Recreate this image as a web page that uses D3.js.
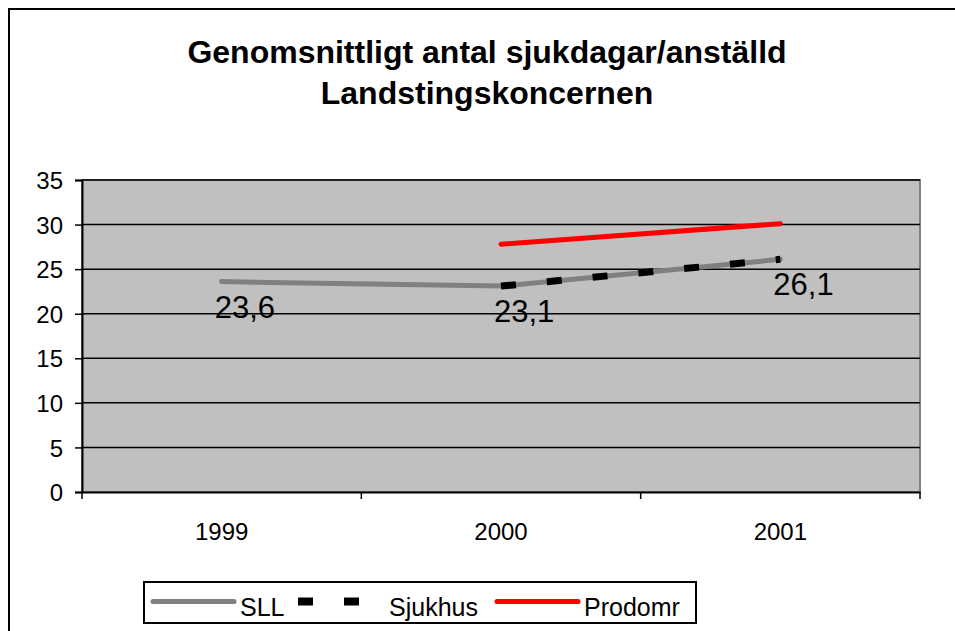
<!DOCTYPE html>
<html><head><meta charset="utf-8">
<script src="https://cdn.jsdelivr.net/npm/d3@7"></script>
<style>body{margin:0;background:#fff}svg{display:block}</style>
</head><body>
<svg id="c" width="955" height="631"></svg>
<script>
const categories = ["1999","2000","2001"];
const sll = [23.6, 23.1, 26.1];
const sjukhus = [null, 23.1, 26.1];
const prodomr = [null, 27.8, 30.1];
const yTicks = [0,5,10,15,20,25,30,35];
const titleLines = ["Genomsnittligt antal sjukdagar/anställd","Landstingskoncernen"];
const labelValues = [23.6, 23.1, 26.1];

const svg = d3.select("#c");
const font = "'Liberation Sans', Arial, sans-serif";
const L=82, R=920, T=180, B=492;

svg.append("rect").attr("x",9).attr("y",9).attr("width",960).attr("height",640)
  .attr("fill","#fff").attr("stroke","#000").attr("stroke-width",2);

titleLines.forEach((t,i)=>svg.append("text").attr("x",487).attr("y",63+i*41)
  .attr("text-anchor","middle").attr("font-family",font).attr("font-weight","bold")
  .attr("font-size",32).text(t));

const x = d3.scaleBand().domain(categories).range([L,R]);
const y = d3.scaleLinear().domain([0,35]).range([B,T]);
const cx = c => x(c)+x.bandwidth()/2;

svg.append("rect").attr("x",L).attr("y",T).attr("width",R-L).attr("height",B-T)
  .attr("fill","#c0c0c0").attr("stroke","#808080").attr("stroke-width",2);

svg.append("g").selectAll("line").data(yTicks.filter(d=>d>0)).join("line")
  .attr("x1",L).attr("x2",R).attr("y1",d=>y(d)).attr("y2",d=>y(d))
  .attr("stroke","#000").attr("stroke-width",1.5);

const ya = svg.append("g").attr("transform",`translate(${L},0)`)
  .call(d3.axisLeft(y).tickValues(yTicks).tickSize(7).tickPadding(12));
ya.select(".domain").attr("stroke","#000").attr("stroke-width",2);
ya.selectAll(".tick line").attr("stroke","#000").attr("stroke-width",1.5);
ya.selectAll("text").attr("font-family",font).attr("font-size",24).attr("fill","#000").attr("dy","0.36em");

const xa = svg.append("g").attr("transform",`translate(0,${B})`)
  .call(d3.axisBottom(x).tickSize(0).tickPadding(31));
xa.select(".domain").attr("stroke","#000").attr("stroke-width",2);
xa.selectAll("text").attr("font-family",font).attr("font-size",24).attr("fill","#000");
svg.append("g").selectAll("line").data([...categories.map(c=>x(c)), R]).join("line")
  .attr("x1",d=>d).attr("x2",d=>d).attr("y1",B).attr("y2",B+7)
  .attr("stroke","#000").attr("stroke-width",1.5);

const line = d3.line().defined(d=>d.v!=null).x(d=>cx(d.c)).y(d=>y(d.v));
const mk = arr => categories.map((c,i)=>({c, v:arr[i]}));

svg.append("path").datum(mk(sll)).attr("d",line).attr("fill","none")
  .attr("stroke","#808080").attr("stroke-width",5).attr("stroke-linecap","round");
svg.append("path").datum(mk(sjukhus)).attr("d",line).attr("fill","none")
  .attr("stroke","#000").attr("stroke-width",7).attr("stroke-dasharray","15 31");
svg.append("path").datum(mk(prodomr)).attr("d",line).attr("fill","none")
  .attr("stroke","#ff0000").attr("stroke-width",5).attr("stroke-linecap","round");

svg.append("g").selectAll("text").data(mk(labelValues)).join("text")
  .attr("x",d=>cx(d.c)-7).attr("y",d=>y(d.v)+36)
  .attr("font-family",font).attr("font-size",31).attr("fill","#000")
  .text(d=>String(d.v).replace(".",","));

// legend
const lg = svg.append("g");
lg.append("rect").attr("x",144).attr("y",582).attr("width",552).attr("height",41)
  .attr("fill","#fff").attr("stroke","#000").attr("stroke-width",2);
const ly = 601.5;
lg.append("line").attr("x1",153).attr("x2",234).attr("y1",ly).attr("y2",ly)
  .attr("stroke","#808080").attr("stroke-width",5).attr("stroke-linecap","round");
lg.append("text").attr("x",240).attr("y",616).attr("font-family",font).attr("font-size",25).text("SLL");
lg.append("line").attr("x1",298).attr("x2",360).attr("y1",ly).attr("y2",ly)
  .attr("stroke","#000").attr("stroke-width",8).attr("stroke-dasharray","15 31");
lg.append("text").attr("x",389).attr("y",616).attr("font-family",font).attr("font-size",25).text("Sjukhus");
lg.append("line").attr("x1",497).attr("x2",578).attr("y1",ly).attr("y2",ly)
  .attr("stroke","#ff0000").attr("stroke-width",5).attr("stroke-linecap","round");
lg.append("text").attr("x",584).attr("y",616).attr("font-family",font).attr("font-size",25).text("Prodomr");
</script>
</body></html>
